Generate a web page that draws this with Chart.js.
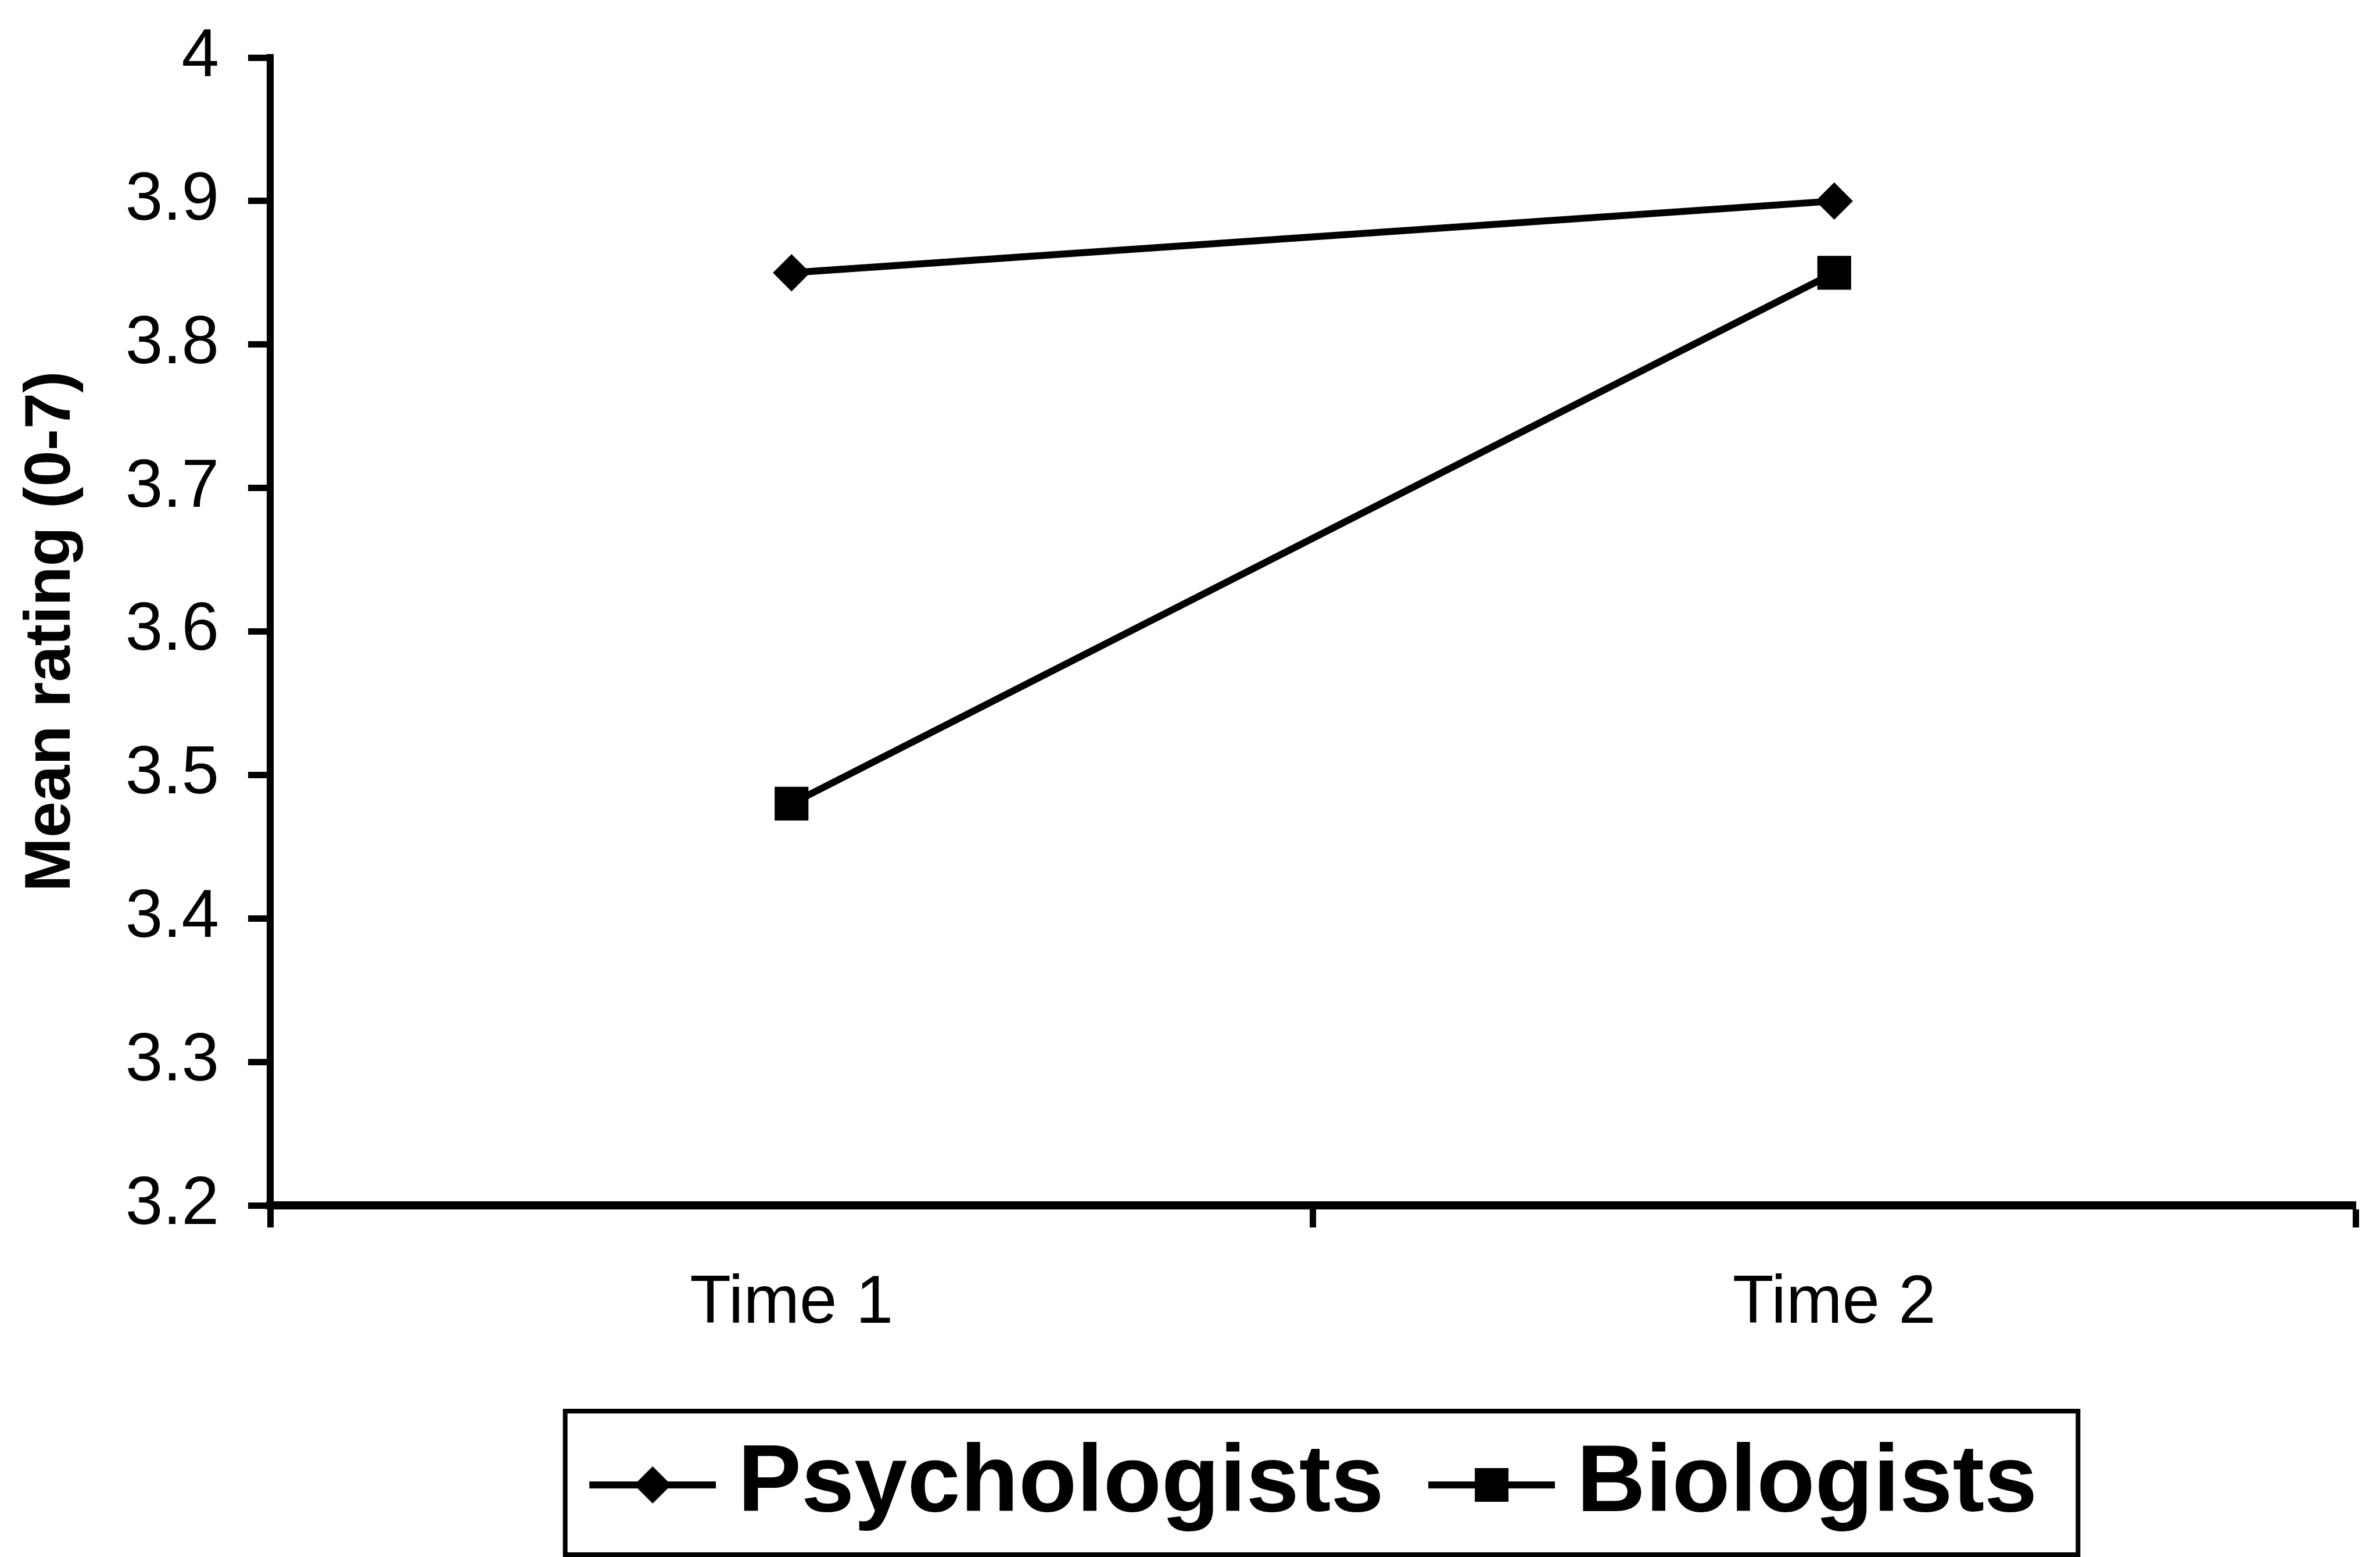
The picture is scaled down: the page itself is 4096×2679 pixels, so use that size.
<!DOCTYPE html>
<html>
<head>
<meta charset="utf-8">
<script src="https://cdn.jsdelivr.net/npm/chart.js@4.4.1/dist/chart.umd.min.js"></script>
<style>
  html, body { margin: 0; padding: 0; background: #fff; }
  #wrap { width: 4096px; height: 2679px; }
</style>
</head>
<body>
<div id="wrap"><canvas id="chart" width="4096" height="2679"></canvas></div>
<script>
const categories = ['Time 1', 'Time 2'];
const psychologists = [3.85, 3.9];
const biologists = [3.48, 3.85];
const yTickValues = [3.2, 3.3, 3.4, 3.5, 3.6, 3.7, 3.8, 3.9, 4];
const yTickLabels = ['3.2', '3.3', '3.4', '3.5', '3.6', '3.7', '3.8', '3.9', '4'];

Chart.defaults.font.family = "'Liberation Sans', Arial, sans-serif";
Chart.defaults.color = '#000';

// legend icon: short line with the marker in the middle
function legendIcon(style) {
    const c = document.createElement('canvas');
    c.width = 264;
    c.height = 90;
    const g = c.getContext('2d');
    g.strokeStyle = '#000';
    g.fillStyle = '#000';
    g.lineWidth = 12;
    g.beginPath();
    g.moveTo(46, 45);
    g.lineTo(264, 45);
    g.stroke();
    const cx = 155, cy = 45;
    g.beginPath();
    if (style === 'rectRot') {
        g.moveTo(cx, cy - 32);
        g.lineTo(cx + 32, cy);
        g.lineTo(cx, cy + 32);
        g.lineTo(cx - 32, cy);
        g.closePath();
    } else {
        g.rect(cx - 29, cy - 29, 58, 58);
    }
    g.fill();
    return c;
}

const legendBorder = {
    id: 'legendBorder',
    afterDraw(chart) {
        const boxes = chart.legend.legendHitBoxes;
        if (!boxes || !boxes.length) return;
        const first = boxes[0];
        const last = boxes[boxes.length - 1];
        const mid = first.top + first.height / 2;
        const ctx = chart.ctx;
        ctx.save();
        ctx.strokeStyle = '#000';
        ctx.lineWidth = 8;
        ctx.strokeRect(first.left - 40, mid - 127, last.left + last.width + 70 - (first.left - 40), 2675 - (mid - 127));
        ctx.restore();
    }
};

const data = {
    labels: categories,
    datasets: [
        {
            label: 'Psychologists',
            data: psychologists,
            borderColor: '#000',
            backgroundColor: '#000',
            borderWidth: 12,
            pointStyle: 'rectRot',
            pointRadius: 30,
            pointBorderWidth: 3,
            tension: 0,
        },
        {
            label: 'Biologists',
            data: biologists,
            borderColor: '#000',
            backgroundColor: '#000',
            borderWidth: 12,
            pointStyle: 'rect',
            pointRadius: 39,
            pointBorderWidth: 3,
            tension: 0,
        }
    ]
};

const icons = [legendIcon('rectRot'), legendIcon('rect')];

const config = {
    type: 'line',
    data: data,
    plugins: [legendBorder],
    options: {
        responsive: false,
        devicePixelRatio: 1,
        animation: false,
        layout: {
            padding: { top: 99, right: 34, bottom: 32, left: 0 }
        },
        scales: {
            x: {
                offset: true,
                grid: {
                    offset: true,
                    drawOnChartArea: false,
                    drawTicks: true,
                    tickLength: 38,
                    tickWidth: 11,
                    tickColor: '#000',
                },
                border: { color: '#000', width: 14 },
                ticks: {
                    padding: 62,
                    font: { size: 116 },
                    color: '#000',
                },
                afterFit: (scale) => { scale.height = 324; }
            },
            y: {
                min: 3.2,
                max: 4,
                afterBuildTicks: (scale) => {
                    scale.ticks = yTickValues.map(v => ({ value: v }));
                },
                grid: {
                    drawOnChartArea: false,
                    tickLength: 38,
                    tickWidth: 11,
                    tickColor: '#000',
                },
                border: { color: '#000', width: 12 },
                ticks: {
                    padding: 50,
                    font: { size: 116 },
                    color: '#000',
                    callback: (value, index) => yTickLabels[index],
                },
                title: {
                    display: true,
                    text: 'Mean rating (0-7)',
                    font: { size: 112, weight: 'bold' },
                    color: '#000',
                    padding: { top: 22, bottom: 0 },
                },
                afterFit: (scale) => {
                    scale.width = 465;
                    scale.paddingTop = 0;
                    scale.paddingBottom = 0;
                }
            }
        },
        plugins: {
            tooltip: { enabled: false },
            legend: {
                position: 'bottom',
                fullSize: false,
                labels: {
                    usePointStyle: true,
                    pointStyleWidth: 175,
                    padding: 75,
                    color: '#000',
                    font: { size: 164, weight: 'bold' },
                    generateLabels: (chart) => Chart.defaults.plugins.legend.labels.generateLabels(chart)
                        .map((item, i) => ({ ...item, pointStyle: icons[i] })),
                }
            }
        }
    }
};

const chart = new Chart(document.getElementById('chart'), config);
</script>
</body>
</html>
